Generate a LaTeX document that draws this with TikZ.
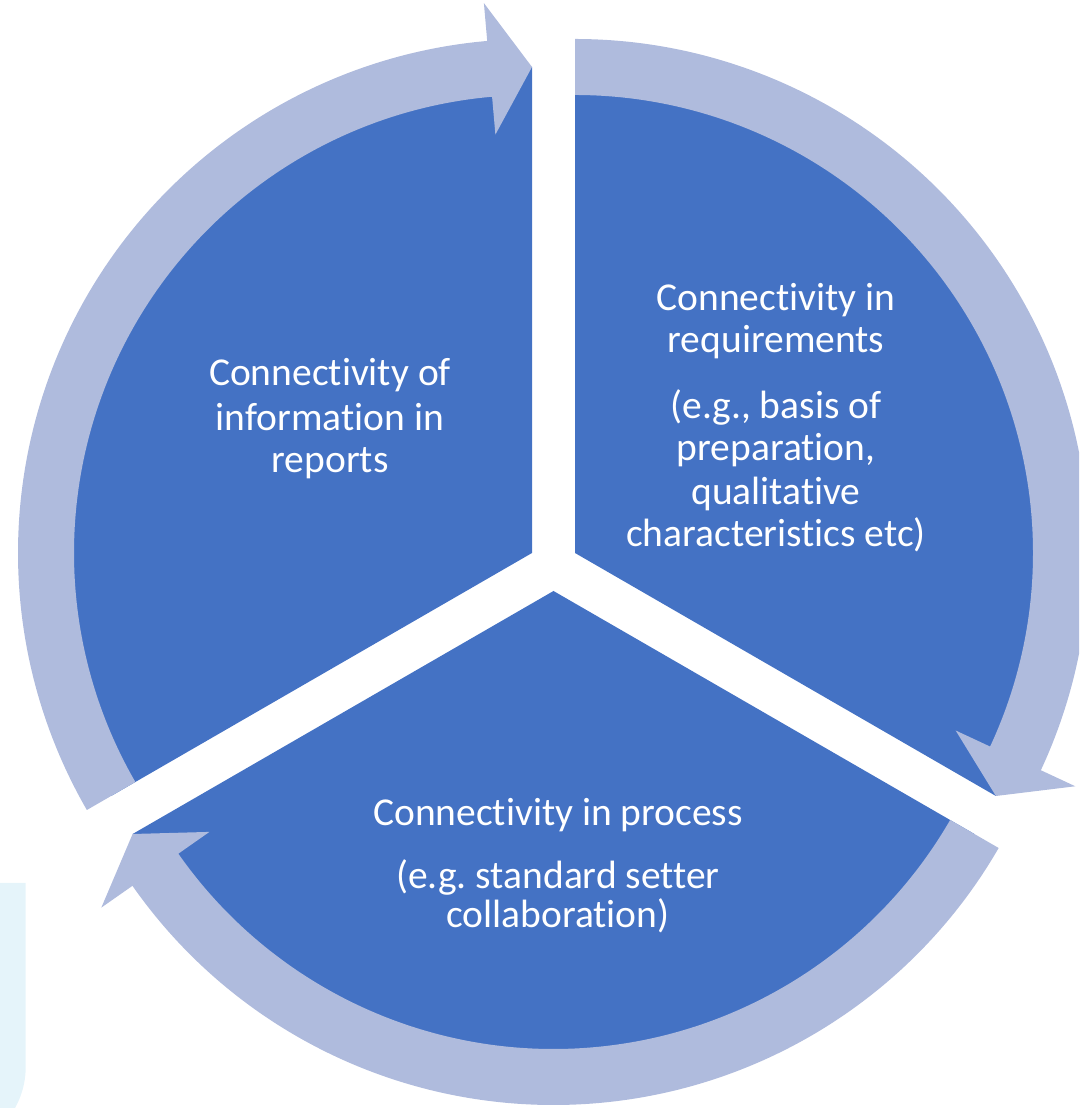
\documentclass[tikz,border=0pt]{standalone}
\usepackage{fontspec}
\setmainfont{Carlito}[Ligatures={NoCommon}]
\frenchspacing
\definecolor{segblue}{HTML}{4472C4}
\definecolor{arrowc}{HTML}{AFBBDD}
\definecolor{panelc}{HTML}{E5F4FA}
\begin{document}
\begin{tikzpicture}[x=1pt,y=1pt,
  seg/.style={fill=segblue},
  cyc/.style={fill=arrowc},
  lbl/.style={text=white,font=\fontsize{39.5}{44}\selectfont,inner sep=0pt,anchor=base}]
\useasboundingbox (0,0) rectangle (1079,1108);
\clip (0,0) rectangle (1079,1108);
% partly visible panel at lower left
\fill[panelc] (-20,225) -- (25.7,225) -- (25.7,41) arc[start angle=0,end angle=-90,radius=84pt] -- (-20,-43) -- cycle;
% sectors
\begin{scope}[shift={(532,555)}]
  \fill[seg] (0,0) -- (90:486pt) arc[start angle=90,end angle=210,radius=486pt] -- cycle;
\end{scope}
\begin{scope}[shift={(575,555)}]
  \fill[seg] (0,0) -- (-30:486pt) arc[start angle=-30,end angle=90,radius=486pt] -- cycle;
\end{scope}
\begin{scope}[shift={(553.5,517)}]
  \fill[seg] (0,0) -- (210:486pt) arc[start angle=210,end angle=330,radius=486pt] -- cycle;
\end{scope}
% circular arrows
\begin{scope}[shift={(532,555)}]
  \fill[cyc] (210:514pt) arc[start angle=210,end angle=95,radius=514pt] -- (95:552pt) -- (90:486pt) -- (95:420pt) -- (95:458pt) arc[start angle=95,end angle=210,radius=458pt] -- cycle;
\end{scope}
\begin{scope}[shift={(575,555)}]
  \fill[cyc] (90:514pt) arc[start angle=90,end angle=-25,radius=514pt] -- (-25:552pt) -- (-30:486pt) -- (-25:420pt) -- (-25:458pt) arc[start angle=-25,end angle=90,radius=458pt] -- cycle;
\end{scope}
\begin{scope}[shift={(553.5,517)}]
  \fill[cyc] (-30:514pt) arc[start angle=-30,end angle=-145,radius=514pt] -- (-145:552pt) -- (-150:486pt) -- (-145:420pt) -- (-145:458pt) arc[start angle=-145,end angle=-30,radius=458pt] -- cycle;
\end{scope}
% labels
\node[lbl] (l1) at (330,722) {Connectivity of};
\node[lbl] (l2) at (330,677) {information in};
\node[lbl] (l3) at (330,635) {reports};
\node[lbl] (r1) at (776,797) {Connectivity in};
\node[lbl] (r2) at (776,755) {requirements};
\node[lbl] (r3) at (776,689) {(e.g., basis of};
\node[lbl] (r4) at (776,647) {preparation,};
\node[lbl] (r5) at (776,603) {qualitative};
\node[lbl] (r6) at (776,561) {characteristics etc)};
\node[lbl] (b1) at (558,282) {Connectivity in process};
\node[lbl] (b2) at (558,219) {(e.g. standard setter};
\node[lbl] (b3) at (558,180) {collaboration)};
\end{tikzpicture}
\end{document}
